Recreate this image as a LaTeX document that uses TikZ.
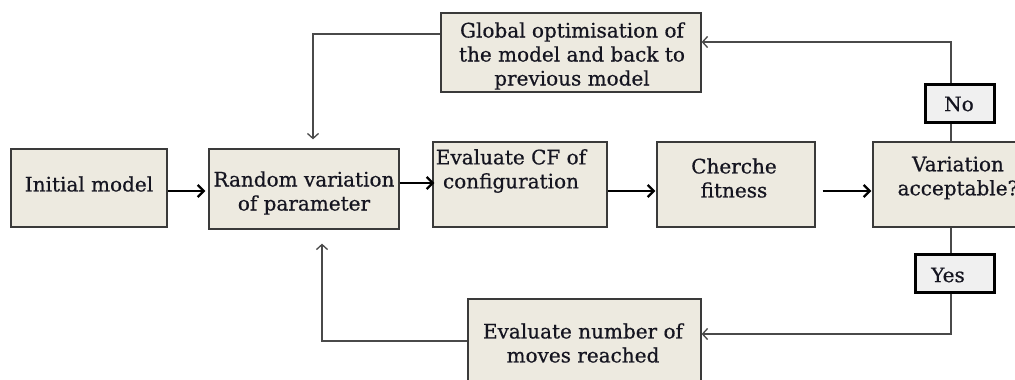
\documentclass[tikz,border=0pt]{standalone}
\usepackage{fontspec}
\setmainfont{DejaVu Serif}
\newfontfamily\heavyserif{DejaVu Serif}[FakeBold=0.6]
\usetikzlibrary{arrows.meta,calc}
\definecolor{boxfill}{HTML}{EDEAE0}
\definecolor{tagfill}{HTML}{F0F0F0}
\definecolor{edge}{HTML}{3A3A3A}
\definecolor{fb}{HTML}{4A4A4A}
\definecolor{ink}{HTML}{151520}
\tikzset{
 box/.style={draw=edge, line width=1.3pt, fill=boxfill, rectangle, inner sep=0pt},
 tag/.style={draw=black, line width=3pt, fill=tagfill, rectangle, inner sep=0pt},
 lbl/.style={font=\heavyserif\fontsize{20}{24}\selectfont, align=center, inner sep=0pt, text=ink},
 mainarrow/.style={draw=black, line width=2.3pt, -{Straight Barb[length=6pt,width=12pt]}},
 fbarrow/.style={draw=fb, line width=1.3pt, -{Straight Barb[length=5pt,width=11pt]}},
 fbline/.style={draw=fb, line width=1.3pt},
}
\begin{document}
\begin{tikzpicture}[x=1pt,y=-1pt]
\useasboundingbox (0,0) rectangle (1015,380);
\clip (0,0) rectangle (1015,380);
% boxes
\node[box, minimum width=156pt, minimum height=78pt] (init) at (89,188) {};
\node[box, minimum width=190pt, minimum height=80pt] (rand) at (304,189) {};
\node[box, minimum width=174pt, minimum height=85pt] (evcf) at (520,184.5) {};
\node[box, minimum width=158pt, minimum height=85pt] (cher) at (736,184.5) {};
\node[box, minimum width=177pt, minimum height=85pt] (var) at (961.5,184.5) {};
\node[box, minimum width=260pt, minimum height=79pt] (glob) at (571,52.5) {};
\node[box, minimum width=233pt, minimum height=101pt] (evnum) at (584.5,349.5) {};
\node[tag, minimum width=69pt, minimum height=38pt] (no) at (959.5,103) {};
\node[tag, minimum width=79pt, minimum height=38pt] (yes) at (954.5,273) {};
% texts
\node[lbl] (init-t) at (89,184) {Initial model};
\node[lbl] (rand-t) at (304,193) {Random variation\\of parameter};
\node[lbl] (evcf-t) at (511,171) {Evaluate CF of\\configuration};
\node[lbl] (cher-t) at (734,178) {Cherche\\fitness};
\node[lbl] (var-t) at (958,178) {Variation\\acceptable?};
\node[lbl] (glob-t) at (572,56) {Global optimisation of\\the model and back to\\previous model};
\node[lbl] (evnum-t) at (583,343) {Evaluate number of\\moves reached};
\node[lbl] (no-t) at (959,104) {No};
\node[lbl] (yes-t) at (948,275) {Yes};
% main flow
\draw[mainarrow] ($(init.east)+(0,3)$) -- ($(rand.west)+(-3,2)$);
\draw[mainarrow] ($(rand.east)+(0,-6)$) -- ($(evcf.west)+(2,-1.5)$);
\draw[mainarrow] ($(evcf.east)+(0,6.5)$) -- ($(cher.west)+(-1,6.5)$);
\draw[mainarrow] ($(cher.east)+(7,6.5)$) -- ($(var.west)+(-1,6.5)$);
% feedback
\coordinate (vx) at (951,0);
\draw[fbarrow] ($(glob.west)+(0,-18.5)$) -| ($(rand.north)+(9,-9)$);
\draw[fbline] (var.north -| vx) -- (no.south -| vx);
\draw[fbarrow] (no.north -| vx) |- ($(glob.east)+(0,-10.5)$);
\draw[fbline] (var.south -| vx) -- (yes.north -| vx);
\draw[fbarrow] (yes.south -| vx) |- ($(evnum.east)+(0,-15.5)$);
\draw[fbarrow] ($(evnum.west)+(0,-8.5)$) -| ($(rand.south)+(18,14)$);
\end{tikzpicture}
\end{document}
